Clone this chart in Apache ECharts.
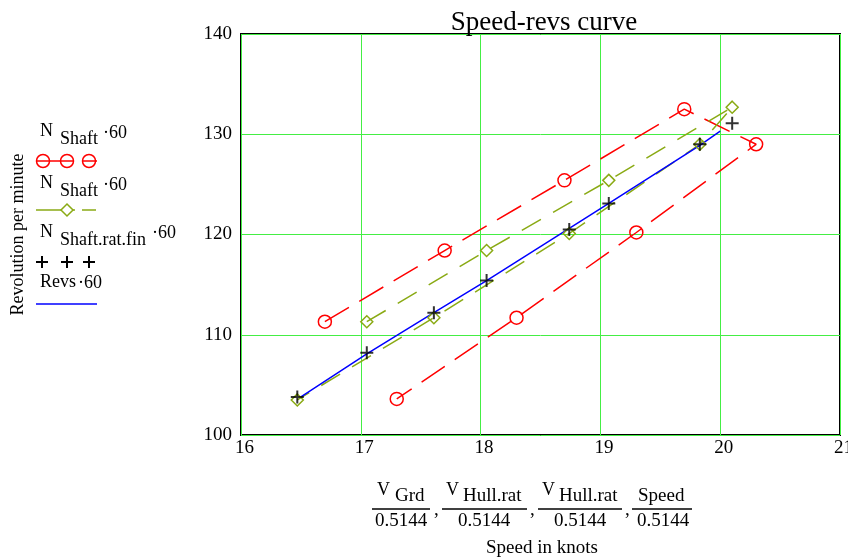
<!DOCTYPE html>
<html><head><meta charset="utf-8">
<script src="https://cdn.jsdelivr.net/npm/echarts@6/dist/echarts.min.js"></script>
<style>html,body{margin:0;padding:0;background:#fff}#c{width:848px;height:558px}</style>
</head><body><div id="c"></div>
<script>
// Data
const redX = [16.7, 17.7, 18.7, 19.7, 20.3, 19.3, 18.3, 17.3];
const redY = [111.3, 118.4, 125.4, 132.5, 129.0, 120.2, 111.7, 103.6];
const greenX = [17.05, 18.05, 19.07, 20.1, 19.83, 18.74, 17.61, 16.47];
const greenY = [111.3, 118.4, 125.4, 132.7, 129.0, 120.1, 111.7, 103.5];
const plusX = [16.47, 17.05, 17.61, 18.05, 18.74, 19.07, 19.83, 20.1];
const plusY = [103.8, 108.2, 112.2, 115.4, 120.5, 123.1, 129.0, 131.1];
const blueX = [16.5, 17.05, 17.61, 18.05, 18.74, 19.07, 19.83, 20.0];
const blueY = [103.8, 108.1, 112.2, 115.4, 120.6, 123.1, 128.9, 130.3];
const xTicks = [16, 17, 18, 19, 20, 21];
const yTicks = [100, 110, 120, 130, 140];

const FONT = '"Liberation Serif","Times New Roman",serif';
const zip = (a, b) => a.map((v, i) => [v, b[i]]);
const RED = '#ff0000', GREEN = '#8aaa14', BLUE = '#0000ff', GRID = '#44ee44';
const PLUS = 'path://M0 5 L10 5 M5 0 L5 10';

const g = [];
function txt(x, y, s, size, align) {
  g.push({type:'text', x:x, y:y, style:{text:s, fill:'#000', font:(size||18)+'px ' + FONT, textAlign:align||'left', textVerticalAlign:'middle'}});
}
function ln(x1, y1, x2, y2, color, w) {
  g.push({type:'line', shape:{x1:x1,y1:y1,x2:x2,y2:y2}, style:{stroke:color, lineWidth:w||1.5}});
}
function circ(cx, cy, r, color) {
  g.push({type:'circle', shape:{cx:cx,cy:cy,r:r}, style:{stroke:color, fill:'none', lineWidth:1.5}});
}
// Legend
txt(40, 131, 'N', 18); txt(60, 139, 'Shaft', 18); txt(103, 133, '\u00b760', 18);
ln(36, 161, 73, 161, RED); ln(83, 161, 97, 161, RED);
circ(43, 161, 6.5, RED); circ(67, 161, 6.5, RED); circ(89, 161, 6.5, RED);
txt(40, 183, 'N', 18); txt(60, 191, 'Shaft', 18); txt(103, 185, '\u00b760', 18);
ln(36, 210, 75, 210, GREEN); ln(82, 210, 96, 210, GREEN);
g.push({type:'polygon', shape:{points:[[67,204],[73,210],[67,216],[61,210]]}, style:{stroke:GREEN, fill:'#fff', lineWidth:1.5}});
txt(40, 232, 'N', 18); txt(60, 240, 'Shaft.rat.fin', 18); txt(152, 233, '\u00b760', 18);
[42, 67, 89].forEach(x => { ln(x-6, 262, x+6, 262, '#000', 2); ln(x, 256, x, 268, '#000', 2); });
txt(40, 282, 'Revs', 18); txt(78, 283, '\u00b760', 18);
ln(36, 304, 97, 304, BLUE);
// X axis name (fractions)
function frac(l1, l2, numParts, denC) {
  numParts.forEach(p => txt(p[0], p[1], p[2], p[3] || 19));
  ln(l1, 509, l2, 509, '#000', 1.5);
  txt(denC, 521, '0.5144', 19, 'center');
}
frac(372, 430, [[377, 490, 'V', 18], [395, 496, 'Grd']], 401);
txt(434, 510, ',', 19);
frac(442, 527, [[446, 490, 'V', 18], [463, 496, 'Hull.rat']], 484);
txt(530, 510, ',', 19);
frac(538, 622, [[542, 490, 'V', 18], [559, 496, 'Hull.rat']], 580);
txt(625, 510, ',', 19);
frac(632, 692, [[638, 496, 'Speed']], 663);
txt(542, 548, 'Speed in knots', 19, 'center');

const chart = echarts.init(document.getElementById('c'));
chart.setOption({
  backgroundColor: '#fff',
  animation: false,
  title: {text:'Speed-revs curve', left:539, textAlign:'center', top:4,
    textStyle:{fontFamily:FONT, fontWeight:'normal', fontSize:27, color:'#000'}},
  grid: {left:241, right:8, top:34, bottom:123, show:true, borderColor:'#000', borderWidth:2,
    backgroundColor:'#fff', containLabel:false, outerBoundsMode:'none'},
  xAxis: {type:'value', min:xTicks[0], max:xTicks[xTicks.length-1], interval:1,
    axisLine:{show:false}, axisTick:{show:false},
    splitLine:{show:true, lineStyle:{color:GRID, width:1}},
    axisLabel:{fontFamily:FONT, fontSize:19, color:'#000', margin:4, padding:[0,0,0,7],
      formatter: v => xTicks.includes(v) ? String(v) : ''}},
  yAxis: {type:'value', min:yTicks[0], max:yTicks[yTicks.length-1], interval:10,
    name:'Revolution per minute', nameLocation:'middle', nameGap:214,
    nameTextStyle:{fontFamily:FONT, fontSize:18, color:'#000'},
    axisLine:{show:false}, axisTick:{show:false},
    splitLine:{show:true, lineStyle:{color:GRID, width:1}},
    axisLabel:{fontFamily:FONT, fontSize:19, color:'#000', margin:9,
      formatter: v => yTicks.includes(v) ? String(v) : ''}},
  series: [
    {type:'line', data:zip(redX, redY), symbol:'circle', symbolSize:13,
      lineStyle:{color:RED, width:1.5, type:[28,12]},
      itemStyle:{color:'rgba(0,0,0,0)', borderColor:RED, borderWidth:1.5}},
    {type:'line', data:zip(greenX, greenY), symbol:'diamond', symbolSize:12,
      lineStyle:{color:GREEN, width:1.5, type:[22,14]},
      itemStyle:{color:'rgba(0,0,0,0)', borderColor:GREEN, borderWidth:1.5}},
    {type:'line', data:zip(blueX, blueY), symbol:'none', z:3,
      lineStyle:{color:BLUE, width:1.5}},
    {type:'scatter', data:zip(plusX, plusY), symbol:PLUS, symbolSize:13, z:4,
      itemStyle:{color:'rgba(0,0,0,0)', borderColor:'#000', borderWidth:2}}
  ],
  graphic: g
});
</script></body></html>
